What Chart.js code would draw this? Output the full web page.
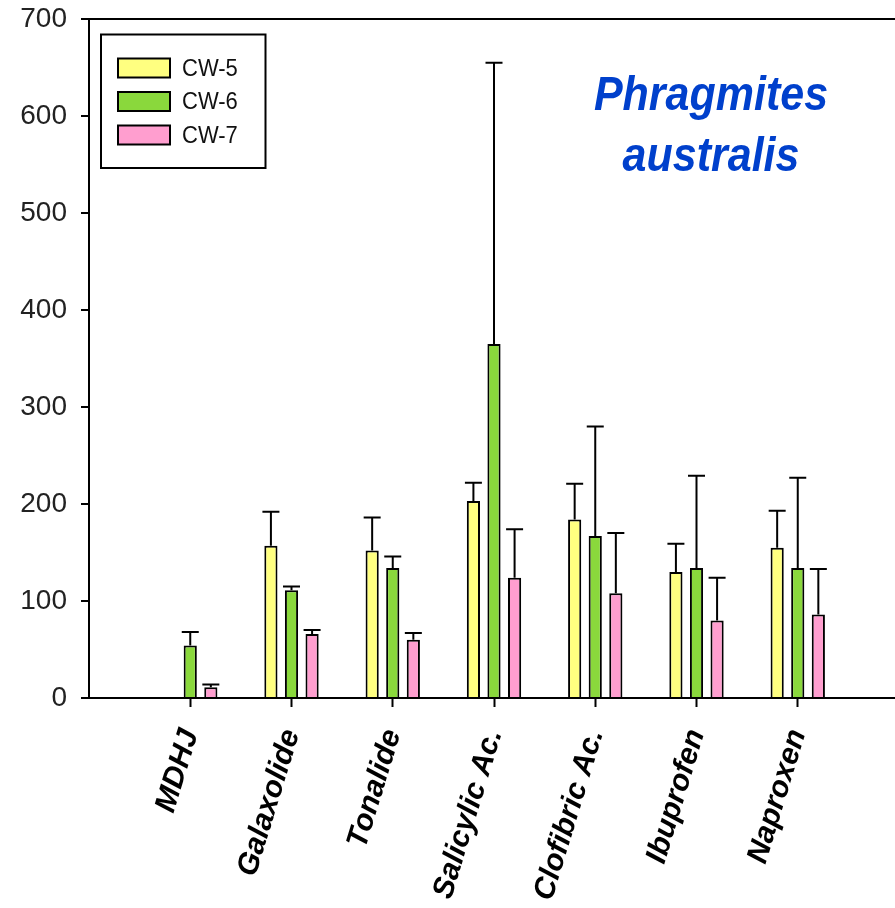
<!DOCTYPE html>
<html>
<head>
<meta charset="utf-8">
<script src="https://cdn.jsdelivr.net/npm/chart.js@4/dist/chart.umd.min.js"></script>
<style>
  html, body { margin: 0; padding: 0; background: #fff; overflow: hidden; }
  canvas { display: block; }
</style>
</head>
<body>
<canvas id="c" width="899" height="908"></canvas>
<script>
// Compounds on the x axis
const categories = ['MDHJ', 'Galaxolide', 'Tonalide', 'Salicylic Ac.', 'Clofibric Ac.', 'Ibuprofen', 'Naproxen'];

// Mean values per wetland
const cw5 = [null, 157, 152, 203, 184, 130, 155];
const cw6 = [54, 111, 134, 365, 167, 134, 134];
const cw7 = [11, 66, 60, 124, 108, 80, 86];

// Upper error bar lengths
const cw5Err = [null, 35, 34, 19, 37, 29, 38];
const cw6Err = [14, 4, 12, 290, 113, 95, 93];
const cw7Err = [3, 4, 7, 50, 62, 44, 47];

const seriesNames = ['CW-5', 'CW-6', 'CW-7'];
const yTicks = [0, 100, 200, 300, 400, 500, 600, 700];
const titleLines = ['Phragmites', 'australis'];

const colors = ['#ffff80', '#8ad83c', '#ff9ecf'];
const FONT = '"Liberation Sans", Arial, Helvetica, sans-serif';

// Empty slots at both ends keep the compounds one category in from the axes
const pad = arr => [null, ...arr, null];
const xLabels = pad(categories).map(v => v === null ? '' : v);

const errorBars = {
  id: 'errorBars',
  afterDatasetsDraw(chart) {
    const ctx = chart.ctx;
    const y = chart.scales.y;
    ctx.save();
    ctx.strokeStyle = '#000';
    ctx.lineWidth = 2;
    chart.data.datasets.forEach((ds, i) => {
      const meta = chart.getDatasetMeta(i);
      meta.data.forEach((bar, j) => {
        const v = ds.data[j];
        const e = ds.errors[j];
        if (v == null || e == null) return;
        const yTop = y.getPixelForValue(v);
        const yCap = y.getPixelForValue(v + e);
        ctx.beginPath();
        ctx.moveTo(bar.x, yTop);
        ctx.lineTo(bar.x, yCap);
        ctx.moveTo(bar.x - 8.5, yCap);
        ctx.lineTo(bar.x + 8.5, yCap);
        ctx.stroke();
      });
    });
    ctx.restore();
  }
};

const legendAndTitle = {
  id: 'legendAndTitle',
  afterDraw(chart) {
    const ctx = chart.ctx;
    ctx.save();
    // legend frame
    ctx.strokeStyle = '#000';
    ctx.lineWidth = 2;
    ctx.strokeRect(101, 34.5, 164.5, 133.5);
    chart.data.datasets.forEach((ds, i) => {
      const cy = 68 + i * 33.5;
      ctx.fillStyle = ds.backgroundColor;
      ctx.fillRect(118, cy - 9.5, 52, 19);
      ctx.strokeRect(118, cy - 9.5, 52, 19);
      ctx.fillStyle = '#111';
      ctx.font = '22px ' + FONT;
      ctx.textAlign = 'left';
      ctx.textBaseline = 'middle';
      ctx.save();
      ctx.translate(182, cy + 1);
      ctx.scale(1, 1.1);
      ctx.fillText(ds.label, 0, 0);
      ctx.restore();
    });
    // species name
    ctx.fillStyle = '#0040cc';
    ctx.font = 'italic bold 43px ' + FONT;
    ctx.textAlign = 'center';
    ctx.textBaseline = 'alphabetic';
    const baselines = [110, 171];
    titleLines.forEach((t, i) => {
      ctx.save();
      ctx.translate(711, baselines[i]);
      ctx.scale(1, 1.12);
      ctx.fillText(t, 0, 0);
      ctx.restore();
    });
    ctx.restore();
  }
};

const makeSet = (i, data, errs) => ({
  label: seriesNames[i],
  data: pad(data),
  errors: pad(errs),
  backgroundColor: colors[i],
  borderColor: '#000',
  borderWidth: 2,
  borderSkipped: 'bottom',
  categoryPercentage: 0.61,
  barPercentage: 0.64
});

new Chart(document.getElementById('c'), {
  type: 'bar',
  data: {
    labels: xLabels,
    datasets: [
      makeSet(0, cw5, cw5Err),
      makeSet(1, cw6, cw6Err),
      makeSet(2, cw7, cw7Err)
    ]
  },
  options: {
    responsive: false,
    animation: false,
    devicePixelRatio: 1,
    layout: { padding: { top: 19, right: 0, left: 0, bottom: 0 } },
    plugins: {
      legend: { display: false },
      tooltip: { enabled: false },
      title: { display: false }
    },
    scales: {
      x: {
        type: 'category',
        offset: false,
        grid: {
          offset: false,
          drawOnChartArea: false,
          drawTicks: true,
          tickLength: 9,
          tickWidth: 2,
          tickColor: c => (c.index === 0 || c.index === xLabels.length - 1) ? 'rgba(0,0,0,0)' : '#000'
        },
        border: { display: true, color: '#000', width: 2 },
        ticks: {
          autoSkip: false,
          minRotation: 73,
          maxRotation: 73,
          padding: 18,
          color: '#000',
          font: { family: FONT, size: 30, style: 'italic', weight: 'bold' }
        },
        afterFit(scale) {
          scale.height = 210;
          scale.paddingLeft = 0;
          scale.paddingRight = 0;
        }
      },
      y: {
        min: 0,
        max: 700,
        afterBuildTicks(scale) { scale.ticks = yTicks.map(v => ({ value: v })); },
        grid: {
          color: c => (c.tick && c.tick.value === 700) ? '#000' : 'rgba(0,0,0,0)',
          lineWidth: 2,
          drawTicks: true,
          tickLength: 8,
          tickWidth: 2,
          tickColor: '#000'
        },
        border: { display: true, color: '#000', width: 2 },
        ticks: {
          padding: 14,
          color: '#222',
          font: { family: FONT, size: 28 }
        },
        afterFit(scale) {
          scale.width = 89;
          scale.paddingTop = 0;
          scale.paddingBottom = 0;
        }
      }
    }
  },
  plugins: [errorBars, legendAndTitle]
});
</script>
</body>
</html>
